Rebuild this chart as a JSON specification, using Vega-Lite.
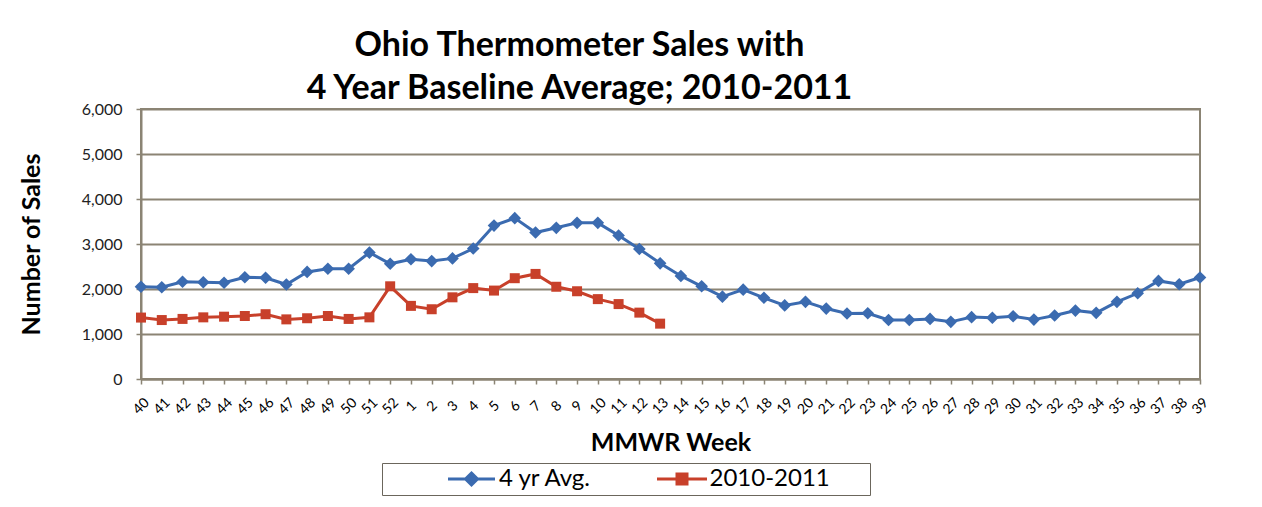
{
  "$schema": "https://vega.github.io/schema/vega-lite/v6.json",
  "width": 1059,
  "height": 270,
  "autosize": "none",
  "padding": {"left": 141, "top": 109, "right": 62, "bottom": 128},
  "background": "white",
  "config": {"font": "Lato", "view": {"stroke": "#8b8474", "strokeWidth": 2}},
  "title": {
    "text": ["Ohio Thermometer Sales with", "4 Year Baseline Average; 2010-2011"],
    "fontSize": 34, "fontWeight": "bold", "font": "Lato", "color": "#000",
    "lineHeight": 43, "anchor": "middle", "dx": -91, "baseline": "bottom", "offset": -39
  },
  "data": {"values": [
    {"week": "40", "series": "4 yr Avg.", "sales": 2050},
    {"week": "41", "series": "4 yr Avg.", "sales": 2040},
    {"week": "42", "series": "4 yr Avg.", "sales": 2160},
    {"week": "43", "series": "4 yr Avg.", "sales": 2150},
    {"week": "44", "series": "4 yr Avg.", "sales": 2140},
    {"week": "45", "series": "4 yr Avg.", "sales": 2260},
    {"week": "46", "series": "4 yr Avg.", "sales": 2250},
    {"week": "47", "series": "4 yr Avg.", "sales": 2100},
    {"week": "48", "series": "4 yr Avg.", "sales": 2380},
    {"week": "49", "series": "4 yr Avg.", "sales": 2450},
    {"week": "50", "series": "4 yr Avg.", "sales": 2450},
    {"week": "51", "series": "4 yr Avg.", "sales": 2810},
    {"week": "52", "series": "4 yr Avg.", "sales": 2560},
    {"week": "1", "series": "4 yr Avg.", "sales": 2660},
    {"week": "2", "series": "4 yr Avg.", "sales": 2620},
    {"week": "3", "series": "4 yr Avg.", "sales": 2680},
    {"week": "4", "series": "4 yr Avg.", "sales": 2900},
    {"week": "5", "series": "4 yr Avg.", "sales": 3410},
    {"week": "6", "series": "4 yr Avg.", "sales": 3575},
    {"week": "7", "series": "4 yr Avg.", "sales": 3255},
    {"week": "8", "series": "4 yr Avg.", "sales": 3360},
    {"week": "9", "series": "4 yr Avg.", "sales": 3470},
    {"week": "10", "series": "4 yr Avg.", "sales": 3470},
    {"week": "11", "series": "4 yr Avg.", "sales": 3190},
    {"week": "12", "series": "4 yr Avg.", "sales": 2890},
    {"week": "13", "series": "4 yr Avg.", "sales": 2570},
    {"week": "14", "series": "4 yr Avg.", "sales": 2290},
    {"week": "15", "series": "4 yr Avg.", "sales": 2060},
    {"week": "16", "series": "4 yr Avg.", "sales": 1830},
    {"week": "17", "series": "4 yr Avg.", "sales": 1985},
    {"week": "18", "series": "4 yr Avg.", "sales": 1805},
    {"week": "19", "series": "4 yr Avg.", "sales": 1635},
    {"week": "20", "series": "4 yr Avg.", "sales": 1715},
    {"week": "21", "series": "4 yr Avg.", "sales": 1565},
    {"week": "22", "series": "4 yr Avg.", "sales": 1455},
    {"week": "23", "series": "4 yr Avg.", "sales": 1460},
    {"week": "24", "series": "4 yr Avg.", "sales": 1310},
    {"week": "25", "series": "4 yr Avg.", "sales": 1310},
    {"week": "26", "series": "4 yr Avg.", "sales": 1335},
    {"week": "27", "series": "4 yr Avg.", "sales": 1270},
    {"week": "28", "series": "4 yr Avg.", "sales": 1375},
    {"week": "29", "series": "4 yr Avg.", "sales": 1360},
    {"week": "30", "series": "4 yr Avg.", "sales": 1395},
    {"week": "31", "series": "4 yr Avg.", "sales": 1320},
    {"week": "32", "series": "4 yr Avg.", "sales": 1410},
    {"week": "33", "series": "4 yr Avg.", "sales": 1520},
    {"week": "34", "series": "4 yr Avg.", "sales": 1470},
    {"week": "35", "series": "4 yr Avg.", "sales": 1715},
    {"week": "36", "series": "4 yr Avg.", "sales": 1905},
    {"week": "37", "series": "4 yr Avg.", "sales": 2180},
    {"week": "38", "series": "4 yr Avg.", "sales": 2105},
    {"week": "39", "series": "4 yr Avg.", "sales": 2255},
    {"week": "40", "series": "2010-2011", "sales": 1365},
    {"week": "41", "series": "2010-2011", "sales": 1310},
    {"week": "42", "series": "2010-2011", "sales": 1335},
    {"week": "43", "series": "2010-2011", "sales": 1370},
    {"week": "44", "series": "2010-2011", "sales": 1385},
    {"week": "45", "series": "2010-2011", "sales": 1400},
    {"week": "46", "series": "2010-2011", "sales": 1440},
    {"week": "47", "series": "2010-2011", "sales": 1325},
    {"week": "48", "series": "2010-2011", "sales": 1350},
    {"week": "49", "series": "2010-2011", "sales": 1400},
    {"week": "50", "series": "2010-2011", "sales": 1335},
    {"week": "51", "series": "2010-2011", "sales": 1370},
    {"week": "52", "series": "2010-2011", "sales": 2060},
    {"week": "1", "series": "2010-2011", "sales": 1625},
    {"week": "2", "series": "2010-2011", "sales": 1550},
    {"week": "3", "series": "2010-2011", "sales": 1815},
    {"week": "4", "series": "2010-2011", "sales": 2020},
    {"week": "5", "series": "2010-2011", "sales": 1965},
    {"week": "6", "series": "2010-2011", "sales": 2240},
    {"week": "7", "series": "2010-2011", "sales": 2335},
    {"week": "8", "series": "2010-2011", "sales": 2050},
    {"week": "9", "series": "2010-2011", "sales": 1950},
    {"week": "10", "series": "2010-2011", "sales": 1775},
    {"week": "11", "series": "2010-2011", "sales": 1665},
    {"week": "12", "series": "2010-2011", "sales": 1475},
    {"week": "13", "series": "2010-2011", "sales": 1230}
  ]},
  "encoding": {
    "x": {
      "field": "week", "type": "ordinal", "sort": null,
      "scale": {"type": "point", "padding": 0},
      "title": "MMWR Week",
      "axis": {
        "labelAngle": -45, "labelAlign": "center", "labelBaseline": "middle",
        "labelPadding": 22, "labelFontSize": 14, "labelColor": "#000", "labelOverlap": false,
        "tickSize": 5, "tickColor": "#8b8474", "tickWidth": 1.5,
        "domainColor": "#8b8474", "domainWidth": 2, "grid": false,
        "titleFontSize": 25, "titleFontWeight": "bold", "titleColor": "#000", "titlePadding": 14
      }
    },
    "y": {
      "field": "sales", "type": "quantitative",
      "scale": {"domain": [0, 6000]},
      "title": "Number of Sales",
      "axis": {
        "values": [0, 1000, 2000, 3000, 4000, 5000, 6000], "format": ",d",
        "labelFontSize": 16, "labelColor": "#222", "labelPadding": 14,
        "tickSize": 5, "tickColor": "#8b8474", "tickWidth": 1.5,
        "domainColor": "#8b8474", "domainWidth": 2,
        "gridColor": "#8b8474", "gridWidth": 2,
        "titleFontSize": 25, "titleFontWeight": "bold", "titleColor": "#000", "titlePadding": 37
      }
    },
    "color": {
      "field": "series", "type": "nominal",
      "scale": {"domain": ["4 yr Avg.", "2010-2011"], "range": ["#3b6bb0", "#c8402a"]},
      "legend": {
        "title": null, "orient": "none", "legendX": 241, "legendY": 354,
        "direction": "horizontal",
        "labelFontSize": 24, "labelColor": "#000", "labelFont": "Lato", "labelLimit": 400,
        "labelExpr": "datum.label == '2010-2011' ? datum.label + '\u2800\u2800' : datum.label",
        "strokeColor": "#6b665c", "padding": 4,
        "symbolSize": 400, "symbolOffset": 73.5, "columnPadding": 4.5, "labelOffset": 15.5,
        "symbolStrokeWidth": 3,
        "encode": {
          "symbols": {"update": {
            "shape": {"signal": "datum.value == '4 yr Avg.' ? 'M-2.35,0H2.35M0,-0.6L0.6,0L0,0.6L-0.6,0Z' : 'M-2.5,0H2.5M-0.5,-0.5H0.5V0.5H-0.5Z'"},
            "fill": {"scale": "color", "field": "value"},
            "stroke": {"scale": "color", "field": "value"},
            "strokeWidth": {"value": 3},
            "opacity": {"value": 1}
          }}
        }
      }
    }
  },
  "layer": [
    {"mark": {"type": "line", "strokeWidth": 3}},
    {
      "transform": [{"filter": "datum.series == '4 yr Avg.'"}],
      "mark": {"type": "point", "shape": "diamond", "filled": true, "opacity": 1, "size": 160}
    },
    {
      "transform": [{"filter": "datum.series == '2010-2011'"}],
      "mark": {"type": "point", "shape": "square", "filled": true, "opacity": 1, "size": 100}
    }
  ]
}
